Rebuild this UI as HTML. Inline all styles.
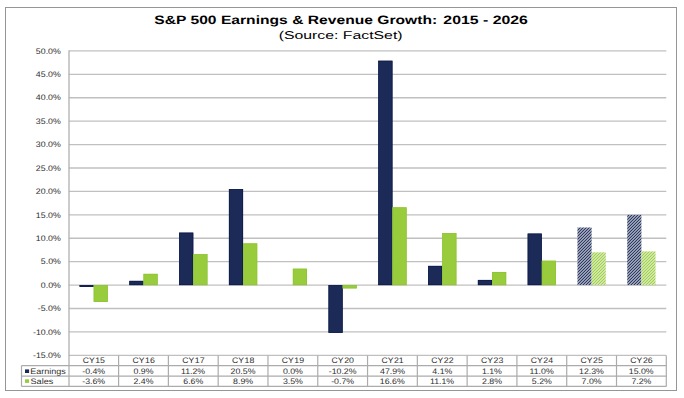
<!DOCTYPE html>
<html><head><meta charset="utf-8"><style>
html,body{margin:0;padding:0;background:#fff;width:684px;height:398px;overflow:hidden}
svg{display:block;font-family:"Liberation Sans", sans-serif;text-rendering:geometricPrecision}
</style></head><body>
<svg width="684" height="398" viewBox="0 0 684 398">
<defs><pattern id="hn" patternUnits="userSpaceOnUse" x="0" y="0" width="2.1213" height="2.1213" patternTransform="rotate(45)"><rect width="2.1213" height="2.1213" fill="#fff"/><rect width="1.3152" height="2.1213" fill="#1b2a57"/></pattern><pattern id="hg" patternUnits="userSpaceOnUse" x="0" y="0" width="2.1213" height="2.1213" patternTransform="rotate(45)"><rect width="2.1213" height="2.1213" fill="#fff"/><rect width="1.3152" height="2.1213" fill="#99cc3d"/></pattern></defs>
<rect x="0" y="0" width="684" height="398" fill="#fff"/>
<rect x="5.5" y="7.5" width="671" height="383" fill="none" stroke="#969696" stroke-width="1"/>
<line x1="68.80" y1="50.90" x2="666.30" y2="50.90" stroke="#c0c0c0" stroke-width="1.3"/>
<line x1="68.80" y1="74.32" x2="666.30" y2="74.32" stroke="#c0c0c0" stroke-width="1.3"/>
<line x1="68.80" y1="97.74" x2="666.30" y2="97.74" stroke="#c0c0c0" stroke-width="1.3"/>
<line x1="68.80" y1="121.16" x2="666.30" y2="121.16" stroke="#c0c0c0" stroke-width="1.3"/>
<line x1="68.80" y1="144.58" x2="666.30" y2="144.58" stroke="#c0c0c0" stroke-width="1.3"/>
<line x1="68.80" y1="168.00" x2="666.30" y2="168.00" stroke="#c0c0c0" stroke-width="1.3"/>
<line x1="68.80" y1="191.42" x2="666.30" y2="191.42" stroke="#c0c0c0" stroke-width="1.3"/>
<line x1="68.80" y1="214.84" x2="666.30" y2="214.84" stroke="#c0c0c0" stroke-width="1.3"/>
<line x1="68.80" y1="238.26" x2="666.30" y2="238.26" stroke="#c0c0c0" stroke-width="1.3"/>
<line x1="68.80" y1="261.68" x2="666.30" y2="261.68" stroke="#c0c0c0" stroke-width="1.3"/>
<line x1="68.80" y1="285.10" x2="666.30" y2="285.10" stroke="#c0c0c0" stroke-width="1.3"/>
<line x1="68.80" y1="308.52" x2="666.30" y2="308.52" stroke="#c0c0c0" stroke-width="1.3"/>
<line x1="68.80" y1="331.94" x2="666.30" y2="331.94" stroke="#c0c0c0" stroke-width="1.3"/>
<line x1="68.80" y1="355.36" x2="666.30" y2="355.36" stroke="#c0c0c0" stroke-width="1.3"/>
<rect x="79.55" y="285.10" width="14.15" height="1.87" fill="#1b2a57"/>
<rect x="79.90" y="285.45" width="13.45" height="1.17" fill="none" stroke="#0e1a4a" stroke-width="0.70"/>
<rect x="93.70" y="285.10" width="14.15" height="16.86" fill="#99cc3d"/>
<rect x="94.05" y="285.45" width="13.45" height="16.16" fill="none" stroke="#8cc434" stroke-width="0.70"/>
<rect x="129.34" y="280.88" width="14.15" height="4.22" fill="#1b2a57"/>
<rect x="129.69" y="281.23" width="13.45" height="3.52" fill="none" stroke="#0e1a4a" stroke-width="0.70"/>
<rect x="143.49" y="273.86" width="14.15" height="11.24" fill="#99cc3d"/>
<rect x="143.84" y="274.21" width="13.45" height="10.54" fill="none" stroke="#8cc434" stroke-width="0.70"/>
<rect x="179.13" y="232.64" width="14.15" height="52.46" fill="#1b2a57"/>
<rect x="179.48" y="232.99" width="13.45" height="51.76" fill="none" stroke="#0e1a4a" stroke-width="0.70"/>
<rect x="193.28" y="254.19" width="14.15" height="30.91" fill="#99cc3d"/>
<rect x="193.63" y="254.54" width="13.45" height="30.21" fill="none" stroke="#8cc434" stroke-width="0.70"/>
<rect x="228.92" y="189.08" width="14.15" height="96.02" fill="#1b2a57"/>
<rect x="229.27" y="189.43" width="13.45" height="95.32" fill="none" stroke="#0e1a4a" stroke-width="0.70"/>
<rect x="243.07" y="243.41" width="14.15" height="41.69" fill="#99cc3d"/>
<rect x="243.42" y="243.76" width="13.45" height="40.99" fill="none" stroke="#8cc434" stroke-width="0.70"/>
<rect x="292.86" y="268.71" width="14.15" height="16.39" fill="#99cc3d"/>
<rect x="293.21" y="269.06" width="13.45" height="15.69" fill="none" stroke="#8cc434" stroke-width="0.70"/>
<rect x="328.50" y="285.10" width="14.15" height="47.78" fill="#1b2a57"/>
<rect x="328.85" y="285.45" width="13.45" height="47.08" fill="none" stroke="#0e1a4a" stroke-width="0.70"/>
<rect x="342.65" y="285.10" width="14.15" height="3.28" fill="#99cc3d"/>
<rect x="343.00" y="285.45" width="13.45" height="2.58" fill="none" stroke="#8cc434" stroke-width="0.70"/>
<rect x="378.30" y="60.74" width="14.15" height="224.36" fill="#1b2a57"/>
<rect x="378.65" y="61.09" width="13.45" height="223.66" fill="none" stroke="#0e1a4a" stroke-width="0.70"/>
<rect x="392.45" y="207.35" width="14.15" height="77.75" fill="#99cc3d"/>
<rect x="392.80" y="207.70" width="13.45" height="77.05" fill="none" stroke="#8cc434" stroke-width="0.70"/>
<rect x="428.09" y="265.90" width="14.15" height="19.20" fill="#1b2a57"/>
<rect x="428.44" y="266.25" width="13.45" height="18.50" fill="none" stroke="#0e1a4a" stroke-width="0.70"/>
<rect x="442.24" y="233.11" width="14.15" height="51.99" fill="#99cc3d"/>
<rect x="442.59" y="233.46" width="13.45" height="51.29" fill="none" stroke="#8cc434" stroke-width="0.70"/>
<rect x="477.88" y="279.95" width="14.15" height="5.15" fill="#1b2a57"/>
<rect x="478.23" y="280.30" width="13.45" height="4.45" fill="none" stroke="#0e1a4a" stroke-width="0.70"/>
<rect x="492.03" y="271.98" width="14.15" height="13.12" fill="#99cc3d"/>
<rect x="492.38" y="272.33" width="13.45" height="12.42" fill="none" stroke="#8cc434" stroke-width="0.70"/>
<rect x="527.67" y="233.58" width="14.15" height="51.52" fill="#1b2a57"/>
<rect x="528.02" y="233.93" width="13.45" height="50.82" fill="none" stroke="#0e1a4a" stroke-width="0.70"/>
<rect x="541.82" y="260.74" width="14.15" height="24.36" fill="#99cc3d"/>
<rect x="542.17" y="261.09" width="13.45" height="23.66" fill="none" stroke="#8cc434" stroke-width="0.70"/>
<rect x="577.46" y="227.49" width="14.15" height="57.61" fill="url(#hn)"/>
<rect x="591.61" y="252.31" width="14.15" height="32.79" fill="url(#hg)"/>
<rect x="627.25" y="214.84" width="14.15" height="70.26" fill="url(#hn)"/>
<rect x="641.40" y="251.38" width="14.15" height="33.72" fill="url(#hg)"/>
<line x1="69" y1="50.40" x2="69" y2="386.4" stroke="#b0b0b0" stroke-width="1.3"/>
<line x1="118.59" y1="355.4" x2="118.59" y2="386.4" stroke="#ababab" stroke-width="1.2"/>
<line x1="168.38" y1="355.4" x2="168.38" y2="386.4" stroke="#ababab" stroke-width="1.2"/>
<line x1="218.18" y1="355.4" x2="218.18" y2="386.4" stroke="#ababab" stroke-width="1.2"/>
<line x1="267.97" y1="355.4" x2="267.97" y2="386.4" stroke="#ababab" stroke-width="1.2"/>
<line x1="317.76" y1="355.4" x2="317.76" y2="386.4" stroke="#ababab" stroke-width="1.2"/>
<line x1="367.55" y1="355.4" x2="367.55" y2="386.4" stroke="#ababab" stroke-width="1.2"/>
<line x1="417.34" y1="355.4" x2="417.34" y2="386.4" stroke="#ababab" stroke-width="1.2"/>
<line x1="467.13" y1="355.4" x2="467.13" y2="386.4" stroke="#ababab" stroke-width="1.2"/>
<line x1="516.92" y1="355.4" x2="516.92" y2="386.4" stroke="#ababab" stroke-width="1.2"/>
<line x1="566.72" y1="355.4" x2="566.72" y2="386.4" stroke="#ababab" stroke-width="1.2"/>
<line x1="616.51" y1="355.4" x2="616.51" y2="386.4" stroke="#ababab" stroke-width="1.2"/>
<line x1="666.30" y1="355.4" x2="666.30" y2="386.4" stroke="#ababab" stroke-width="1.2"/>
<line x1="21.5" y1="365.60" x2="666.30" y2="365.60" stroke="#ababab" stroke-width="1.2"/>
<line x1="21.5" y1="376.20" x2="666.30" y2="376.20" stroke="#ababab" stroke-width="1.2"/>
<line x1="21.5" y1="386.40" x2="666.30" y2="386.40" stroke="#ababab" stroke-width="1.2"/>
<line x1="21.5" y1="365.6" x2="21.5" y2="386.4" stroke="#ababab" stroke-width="1.2"/>
<rect x="25" y="369.4" width="4.1" height="3.6" fill="#1b2a57"/>
<rect x="25" y="379.3" width="4.1" height="3.6" fill="#99cc3d"/>
<text transform="translate(154.23 24.20) scale(0.12923 0.10000)" font-size="121.00" font-weight="bold" fill="#000000">S&amp;P 500 Earnings &amp; Revenue Growth:</text>
<text transform="translate(443.32 24.20) scale(0.13095 0.10000)" font-size="121.00" font-weight="bold" fill="#000000">2015 - 2026</text>
<text transform="translate(278.65 38.80) scale(0.13869 0.10000)" font-size="114.00" font-weight="normal" fill="#000000">(Source: FactSet)</text>
<text transform="translate(35.86 53.60) scale(0.10864 0.10000)" font-size="81.00" font-weight="normal" fill="#2e2e2e">50.0%</text>
<text transform="translate(35.86 77.02) scale(0.10864 0.10000)" font-size="81.00" font-weight="normal" fill="#2e2e2e">45.0%</text>
<text transform="translate(35.86 100.44) scale(0.10864 0.10000)" font-size="81.00" font-weight="normal" fill="#2e2e2e">40.0%</text>
<text transform="translate(35.86 123.86) scale(0.10864 0.10000)" font-size="81.00" font-weight="normal" fill="#2e2e2e">35.0%</text>
<text transform="translate(35.86 147.28) scale(0.10864 0.10000)" font-size="81.00" font-weight="normal" fill="#2e2e2e">30.0%</text>
<text transform="translate(35.86 170.70) scale(0.10864 0.10000)" font-size="81.00" font-weight="normal" fill="#2e2e2e">25.0%</text>
<text transform="translate(35.86 194.12) scale(0.10864 0.10000)" font-size="81.00" font-weight="normal" fill="#2e2e2e">20.0%</text>
<text transform="translate(35.86 217.54) scale(0.10864 0.10000)" font-size="81.00" font-weight="normal" fill="#2e2e2e">15.0%</text>
<text transform="translate(35.86 240.96) scale(0.10864 0.10000)" font-size="81.00" font-weight="normal" fill="#2e2e2e">10.0%</text>
<text transform="translate(40.79 264.38) scale(0.10864 0.10000)" font-size="81.00" font-weight="normal" fill="#2e2e2e">5.0%</text>
<text transform="translate(40.79 287.80) scale(0.10864 0.10000)" font-size="81.00" font-weight="normal" fill="#2e2e2e">0.0%</text>
<text transform="translate(37.80 311.22) scale(0.10864 0.10000)" font-size="81.00" font-weight="normal" fill="#2e2e2e">-5.0%</text>
<text transform="translate(32.96 334.64) scale(0.10864 0.10000)" font-size="81.00" font-weight="normal" fill="#2e2e2e">-10.0%</text>
<text transform="translate(32.96 358.06) scale(0.10864 0.10000)" font-size="81.00" font-weight="normal" fill="#2e2e2e">-15.0%</text>
<text transform="translate(82.67 363.20) scale(0.10617 0.10000)" font-size="81.00" font-weight="normal" fill="#2e2e2e">CY</text>
<text transform="translate(95.20 363.20) scale(0.10864 0.10000)" font-size="81.00" fill="#2e2e2e">15</text>
<text transform="translate(82.23 373.90) scale(0.10802 0.10000)" font-size="81.00" font-weight="normal" fill="#2e2e2e">-0.4%</text>
<text transform="translate(82.23 384.00) scale(0.10802 0.10000)" font-size="81.00" font-weight="normal" fill="#2e2e2e">-3.6%</text>
<text transform="translate(132.46 363.20) scale(0.10617 0.10000)" font-size="81.00" font-weight="normal" fill="#2e2e2e">CY</text>
<text transform="translate(144.99 363.20) scale(0.10864 0.10000)" font-size="81.00" fill="#2e2e2e">16</text>
<text transform="translate(133.51 373.90) scale(0.10802 0.10000)" font-size="81.00" font-weight="normal" fill="#2e2e2e">0.9%</text>
<text transform="translate(133.47 384.00) scale(0.10802 0.10000)" font-size="81.00" font-weight="normal" fill="#2e2e2e">2.4%</text>
<text transform="translate(182.25 363.20) scale(0.10617 0.10000)" font-size="81.00" font-weight="normal" fill="#2e2e2e">CY</text>
<text transform="translate(194.78 363.20) scale(0.10864 0.10000)" font-size="81.00" fill="#2e2e2e">17</text>
<text transform="translate(180.99 373.90) scale(0.10802 0.10000)" font-size="81.00" font-weight="normal" fill="#2e2e2e">11.2%</text>
<text transform="translate(183.26 384.00) scale(0.10802 0.10000)" font-size="81.00" font-weight="normal" fill="#2e2e2e">6.6%</text>
<text transform="translate(232.04 363.20) scale(0.10617 0.10000)" font-size="81.00" font-weight="normal" fill="#2e2e2e">CY</text>
<text transform="translate(244.57 363.20) scale(0.10864 0.10000)" font-size="81.00" fill="#2e2e2e">18</text>
<text transform="translate(230.60 373.90) scale(0.10802 0.10000)" font-size="81.00" font-weight="normal" fill="#2e2e2e">20.5%</text>
<text transform="translate(233.10 384.00) scale(0.10802 0.10000)" font-size="81.00" font-weight="normal" fill="#2e2e2e">8.9%</text>
<text transform="translate(281.83 363.20) scale(0.10617 0.10000)" font-size="81.00" font-weight="normal" fill="#2e2e2e">CY</text>
<text transform="translate(294.36 363.20) scale(0.10864 0.10000)" font-size="81.00" fill="#2e2e2e">19</text>
<text transform="translate(282.89 373.90) scale(0.10802 0.10000)" font-size="81.00" font-weight="normal" fill="#2e2e2e">0.0%</text>
<text transform="translate(282.89 384.00) scale(0.10802 0.10000)" font-size="81.00" font-weight="normal" fill="#2e2e2e">3.5%</text>
<text transform="translate(331.62 363.20) scale(0.10617 0.10000)" font-size="81.00" font-weight="normal" fill="#2e2e2e">CY</text>
<text transform="translate(344.15 363.20) scale(0.10864 0.10000)" font-size="81.00" fill="#2e2e2e">20</text>
<text transform="translate(328.79 373.90) scale(0.10802 0.10000)" font-size="81.00" font-weight="normal" fill="#2e2e2e">-10.2%</text>
<text transform="translate(331.19 384.00) scale(0.10802 0.10000)" font-size="81.00" font-weight="normal" fill="#2e2e2e">-0.7%</text>
<text transform="translate(381.42 363.20) scale(0.10617 0.10000)" font-size="81.00" font-weight="normal" fill="#2e2e2e">CY</text>
<text transform="translate(393.95 363.20) scale(0.10864 0.10000)" font-size="81.00" fill="#2e2e2e">21</text>
<text transform="translate(380.11 373.90) scale(0.10802 0.10000)" font-size="81.00" font-weight="normal" fill="#2e2e2e">47.9%</text>
<text transform="translate(379.85 384.00) scale(0.10802 0.10000)" font-size="81.00" font-weight="normal" fill="#2e2e2e">16.6%</text>
<text transform="translate(431.21 363.20) scale(0.10617 0.10000)" font-size="81.00" font-weight="normal" fill="#2e2e2e">CY</text>
<text transform="translate(443.74 363.20) scale(0.10864 0.10000)" font-size="81.00" fill="#2e2e2e">22</text>
<text transform="translate(432.35 373.90) scale(0.10802 0.10000)" font-size="81.00" font-weight="normal" fill="#2e2e2e">4.1%</text>
<text transform="translate(429.94 384.00) scale(0.10802 0.10000)" font-size="81.00" font-weight="normal" fill="#2e2e2e">11.1%</text>
<text transform="translate(481.00 363.20) scale(0.10617 0.10000)" font-size="81.00" font-weight="normal" fill="#2e2e2e">CY</text>
<text transform="translate(493.53 363.20) scale(0.10864 0.10000)" font-size="81.00" fill="#2e2e2e">23</text>
<text transform="translate(481.88 373.90) scale(0.10802 0.10000)" font-size="81.00" font-weight="normal" fill="#2e2e2e">1.1%</text>
<text transform="translate(482.01 384.00) scale(0.10802 0.10000)" font-size="81.00" font-weight="normal" fill="#2e2e2e">2.8%</text>
<text transform="translate(530.79 363.20) scale(0.10617 0.10000)" font-size="81.00" font-weight="normal" fill="#2e2e2e">CY</text>
<text transform="translate(543.32 363.20) scale(0.10864 0.10000)" font-size="81.00" fill="#2e2e2e">24</text>
<text transform="translate(529.53 373.90) scale(0.10802 0.10000)" font-size="81.00" font-weight="normal" fill="#2e2e2e">11.0%</text>
<text transform="translate(531.85 384.00) scale(0.10802 0.10000)" font-size="81.00" font-weight="normal" fill="#2e2e2e">5.2%</text>
<text transform="translate(580.58 363.20) scale(0.10617 0.10000)" font-size="81.00" font-weight="normal" fill="#2e2e2e">CY</text>
<text transform="translate(593.11 363.20) scale(0.10864 0.10000)" font-size="81.00" fill="#2e2e2e">25</text>
<text transform="translate(579.01 373.90) scale(0.10802 0.10000)" font-size="81.00" font-weight="normal" fill="#2e2e2e">12.3%</text>
<text transform="translate(581.59 384.00) scale(0.10802 0.10000)" font-size="81.00" font-weight="normal" fill="#2e2e2e">7.0%</text>
<text transform="translate(630.37 363.20) scale(0.10617 0.10000)" font-size="81.00" font-weight="normal" fill="#2e2e2e">CY</text>
<text transform="translate(642.90 363.20) scale(0.10864 0.10000)" font-size="81.00" fill="#2e2e2e">26</text>
<text transform="translate(628.80 373.90) scale(0.10802 0.10000)" font-size="81.00" font-weight="normal" fill="#2e2e2e">15.0%</text>
<text transform="translate(631.39 384.00) scale(0.10802 0.10000)" font-size="81.00" font-weight="normal" fill="#2e2e2e">7.2%</text>
<text transform="translate(30.28 373.80) scale(0.11121 0.10000)" font-size="81.00" font-weight="normal" fill="#2e2e2e">Earnings</text>
<text transform="translate(30.55 383.90) scale(0.11223 0.10000)" font-size="81.00" font-weight="normal" fill="#2e2e2e">Sales</text>
</svg>
</body></html>
